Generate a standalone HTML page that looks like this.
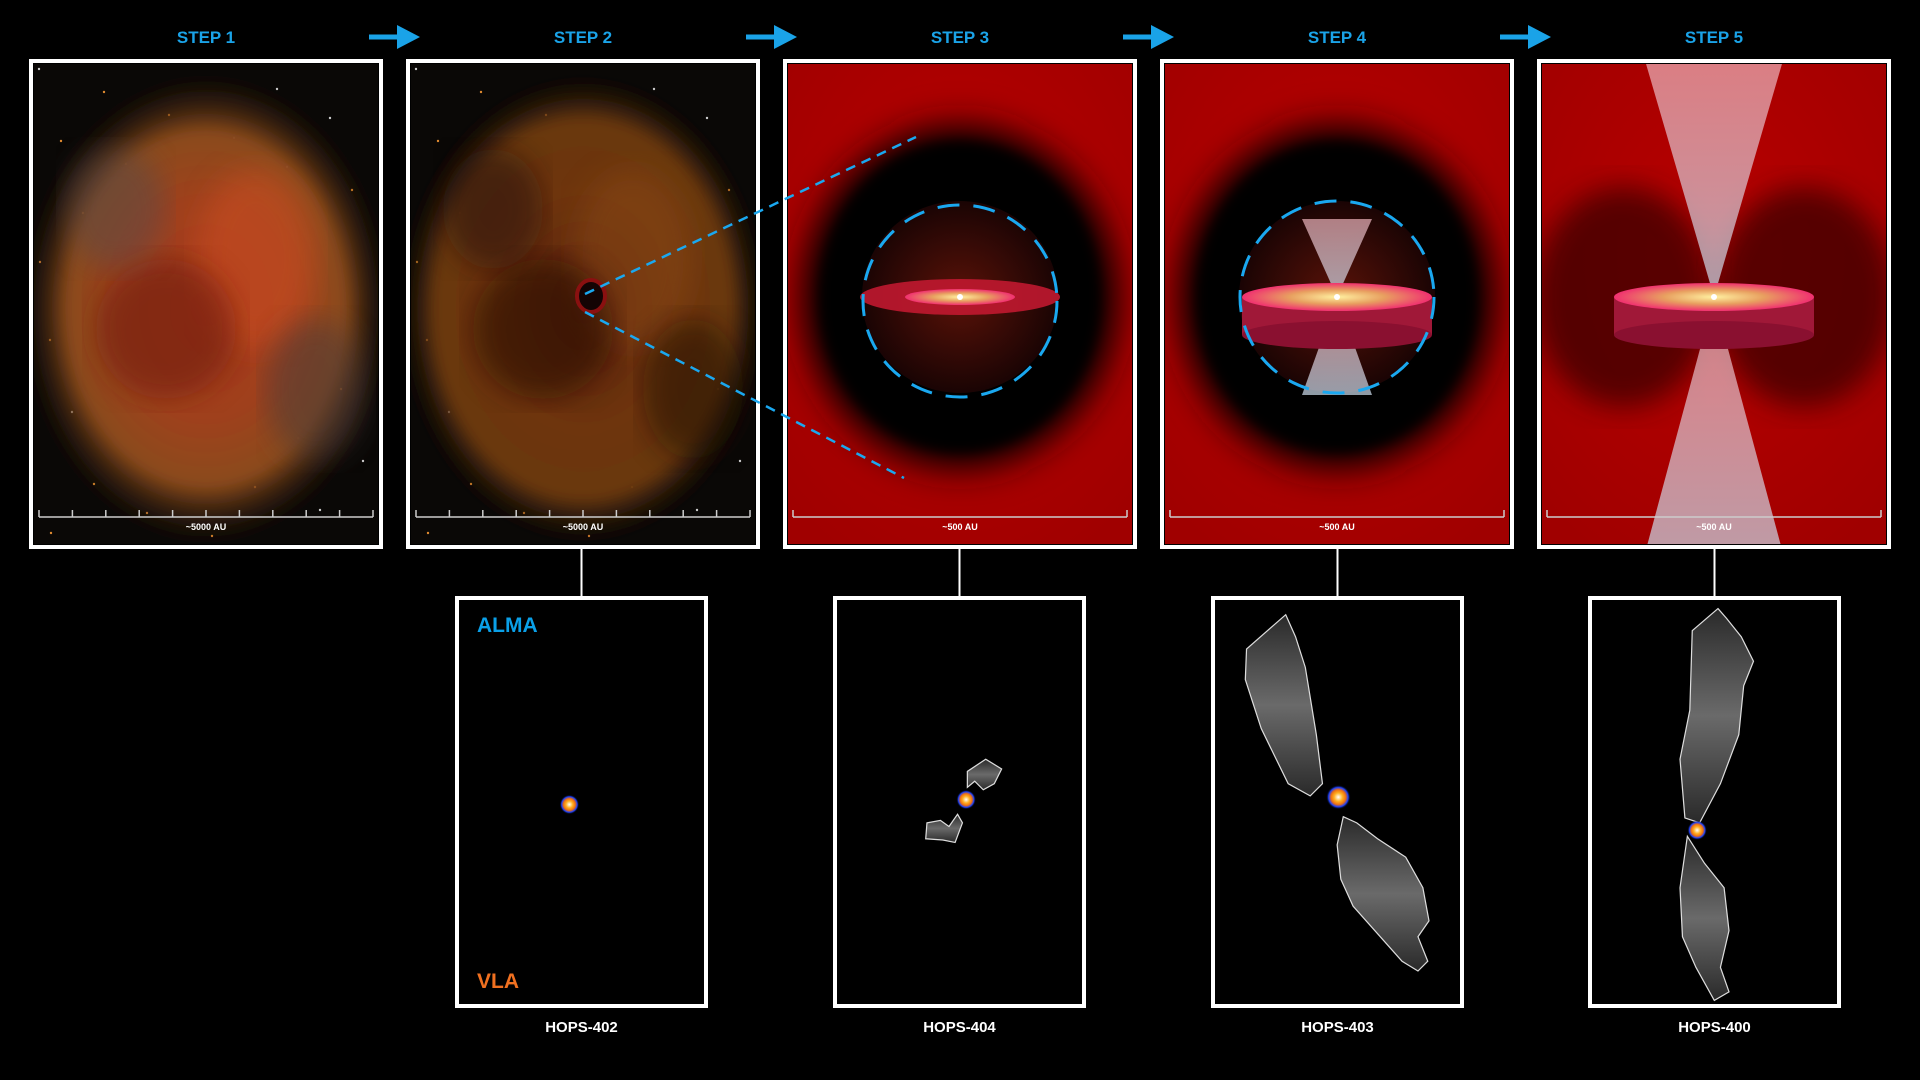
<!DOCTYPE html>
<html><head><meta charset="utf-8"><style>
html,body{margin:0;padding:0;background:#000;width:1920px;height:1080px;overflow:hidden}
svg{display:block}
text{font-family:"Liberation Sans",sans-serif;font-weight:bold}
</style></head><body>
<svg id="fig" width="1920" height="1080" viewBox="0 0 1920 1080">
<defs>
<radialGradient id="cloud1" cx="50%" cy="50%" r="50%"><stop offset="0" stop-color="#a8381a"/><stop offset="0.45" stop-color="#a0401a"/><stop offset="0.75" stop-color="#8a4a1a"/><stop offset="1" stop-color="#2a1a10" stop-opacity="0"/></radialGradient>
<radialGradient id="cloud2" cx="50%" cy="50%" r="50%"><stop offset="0" stop-color="#5a2208"/><stop offset="0.5" stop-color="#6e3410"/><stop offset="0.8" stop-color="#6a3810"/><stop offset="1" stop-color="#1a1008" stop-opacity="0"/></radialGradient>
<radialGradient id="redbg" cx="50%" cy="40%" r="70%"><stop offset="0" stop-color="#b80000"/><stop offset="1" stop-color="#a00000"/></radialGradient>
<radialGradient id="dark" cx="50%" cy="50%" r="50%"><stop offset="0" stop-color="#000"/><stop offset="0.82" stop-color="#080000"/><stop offset="1" stop-color="#300" stop-opacity="0"/></radialGradient>
<radialGradient id="inner" cx="50%" cy="50%" r="50%"><stop offset="0" stop-color="#5a1208"/><stop offset="1" stop-color="#1a0404"/></radialGradient>
<radialGradient id="core" cx="50%" cy="50%" r="50%"><stop offset="0" stop-color="#fff"/><stop offset="0.35" stop-color="#ffb020"/><stop offset="0.6" stop-color="#f07010"/><stop offset="0.8" stop-color="#1a40ff"/><stop offset="1" stop-color="#000" stop-opacity="0"/></radialGradient>
<linearGradient id="blob" x1="0" y1="0" x2="0" y2="1"><stop offset="0" stop-color="#2a2a2a"/><stop offset="0.5" stop-color="#6a6a6a"/><stop offset="1" stop-color="#2a2a2a"/></linearGradient>
<linearGradient id="jet" x1="0" y1="0" x2="0" y2="1"><stop offset="0" stop-color="#f2b8c0" stop-opacity="0.85"/><stop offset="1" stop-color="#c8d8e8" stop-opacity="0.9"/></linearGradient>
<radialGradient id="diskTop" cx="50%" cy="50%" r="50%"><stop offset="0" stop-color="#fff0a0"/><stop offset="0.5" stop-color="#e8a060"/><stop offset="1" stop-color="#f03070"/></radialGradient>
<filter id="blur6"><feGaussianBlur stdDeviation="6"/></filter>
<filter id="blur14"><feGaussianBlur stdDeviation="14"/></filter>
</defs>
<rect width="1920" height="1080" fill="#000"/>
<g id="topg"></g>
<g id="botg"></g>
</svg>
<script>
const stepLabels = ["STEP 1","STEP 2","STEP 3","STEP 4","STEP 5"];
const scaleLabels = ["~5000 AU","~5000 AU","~500 AU","~500 AU","~500 AU"];
const sourceNames = ["HOPS-402","HOPS-404","HOPS-403","HOPS-400"];
const NS="http://www.w3.org/2000/svg";
function mk(tag,attrs,parent){const e=document.createElementNS(NS,tag);for(const k in attrs)e.setAttribute(k,attrs[k]);if(parent)parent.appendChild(e);return e;}
const topG=document.getElementById('topg'), botG=document.getElementById('botg');
const TX=29, TP=377, TY=59, TW=354, TH=490;
stepLabels.forEach((lab,i)=>{
  const x=TX+i*TP, cx=x+TW/2;
  const g=mk('g',{},topG);
  
  
  const t=mk('text',{x:cx,y:43,'text-anchor':'middle','font-size':17,fill:'#1aa3e8'},g);t.textContent=lab;
  
  
  const cp=mk('clipPath',{id:'cp'+i},g);mk('rect',{x:x+5,y:TY+5,width:TW-10,height:TH-10},cp);
  const c=mk('g',{'clip-path':'url(#cp'+i+')'},g);
  if(i<2){
    mk('rect',{x:x,y:TY,width:TW,height:TH,fill:'#0a0806'},c);
    for(let s=0;s<40;s++){mk('circle',{cx:x+10+((s*97)%334),cy:TY+10+((s*173)%470),r:1.2,fill:s%3?'#e08a30':'#ccc'},c);}
    mk('ellipse',{cx:cx,cy:TY+250,rx:185,ry:235,fill:i==0?'url(#cloud1)':'url(#cloud2)',filter:'url(#blur6)'},c);
    mk('ellipse',{cx:cx+50,cy:TY+200,rx:60,ry:90,fill:i==0?'#d05020':'#8a4a14',opacity:0.5,filter:'url(#blur14)'},c);
    mk('ellipse',{cx:cx-40,cy:TY+270,rx:70,ry:70,fill:i==0?'#701a08':'#2a0e04',opacity:0.6,filter:'url(#blur14)'},c);
    mk('ellipse',{cx:cx-90,cy:TY+150,rx:50,ry:60,fill:i==0?'#5a4a48':'#201008',opacity:0.5,filter:'url(#blur14)'},c);
    mk('ellipse',{cx:cx+110,cy:TY+330,rx:50,ry:70,fill:i==0?'#4a3a3a':'#1a0a06',opacity:0.5,filter:'url(#blur14)'},c);
    if(i==1){mk('ellipse',{cx:cx+8,cy:TY+237,rx:14,ry:16,fill:'#140404',stroke:'#8a1010','stroke-width':4},c);}
  } else {
    mk('rect',{x:x,y:TY,width:TW,height:TH,fill:'url(#redbg)'},c);
    const cy=TY+238;
    if(i<4){
      mk('ellipse',{cx:cx,cy:cy,rx:175,ry:190,fill:'url(#dark)',filter:'url(#blur14)'},c);
      mk('ellipse',{cx:cx,cy:cy,rx:140,ry:155,fill:'#000',filter:'url(#blur6)'},c);
      mk('ellipse',{cx:cx,cy:cy,rx:98,ry:96,fill:'url(#inner)'},c);
    } else {
      mk('ellipse',{cx:cx-90,cy:cy,rx:90,ry:110,fill:'#300000',opacity:0.7,filter:'url(#blur14)'},c);
      mk('ellipse',{cx:cx+90,cy:cy,rx:90,ry:110,fill:'#300000',opacity:0.7,filter:'url(#blur14)'},c);
    }
    if(i>=3){
      const jh=i==4?240:78, jw=i==4?70:35;
      mk('polygon',{points:`${cx},${cy} ${cx-jw},${cy-jh} ${cx+jw},${cy-jh}`,fill:'url(#jet)',opacity:0.8},c);
      mk('polygon',{points:`${cx},${cy} ${cx-jw},${cy+jh+20} ${cx+jw},${cy+jh+20}`,fill:'url(#jet)',opacity:0.8},c);
    }
    const dw=i==2?100:(i==3?95:100);
    if(i==2){
      mk('ellipse',{cx:cx,cy:cy,rx:dw,ry:18,fill:'#c01830',opacity:0.9},c);
      mk('ellipse',{cx:cx,cy:cy,rx:55,ry:8,fill:'url(#diskTop)'},c);
    } else {
      mk('rect',{x:cx-dw,y:cy,width:dw*2,height:38,fill:'#a01838'},c);
      mk('ellipse',{cx:cx,cy:cy+38,rx:dw,ry:14,fill:'#8a1030'},c);
      mk('ellipse',{cx:cx,cy:cy,rx:dw,ry:14,fill:'url(#diskTop)'},c);
    }
    mk('circle',{cx:cx,cy:cy,r:3,fill:'#fff'},c);
    if(i<4){mk('ellipse',{cx:cx,cy:cy+(i==2?4:0),rx:97,ry:96,fill:'none',stroke:'#1aa8f0','stroke-width':3,'stroke-dasharray':'22 14'},g);}
  }
  const sy=TY+458;
  mk('line',{x1:x+10,y1:sy,x2:x+TW-10,y2:sy,stroke:'#ccc','stroke-width':1.5},g);
  const nt=i<2?11:2;
  for(let k=0;k<nt;k++){const tx=x+10+k*(TW-20)/(nt-1);mk('line',{x1:tx,y1:sy-7,x2:tx,y2:sy,stroke:'#ccc','stroke-width':1.5},g);}
  const st=mk('text',{x:cx,y:sy+13,'text-anchor':'middle','font-size':9,fill:'#fff'},g);st.textContent=scaleLabels[i];
  
  
  mk('rect',{x:x+2,y:TY+2,width:TW-4,height:TH-4,fill:'none',stroke:'#fff','stroke-width':4},g);
  if(i<4){
    const ar=mk('g',{},topG);
    
    
    mk('line',{x1:x+340,y1:37,x2:x+372,y2:37,stroke:'#1aa3e8','stroke-width':5},ar);
    mk('polygon',{points:`${x+368},25 ${x+391},37 ${x+368},49`,fill:'#1aa3e8'},ar);
  }
});
[[585,294,916,137],[585,312,904,478]].forEach((l,k)=>{const e=mk('line',{x1:l[0],y1:l[1],x2:l[2],y2:l[3],stroke:'#1aa8f0','stroke-width':2.5,'stroke-dasharray':'10 7'},topG);
 
 });
const BX=[455,833,1211,1588], BY=596, BW=253, BH=412, S=1.2245;
const blobs=[
 [],
 ["M790,630 L805,620 L818,628 L812,640 L803,645 L796,638 L790,643 Z","M757,672 L768,670 L775,675 L782,665 L786,672 L780,688 L770,686 L756,685 Z"],
 ["M1050,502 L1058,520 L1066,545 L1075,600 L1080,640 L1070,650 L1052,640 L1030,595 L1017,555 L1018,530 Z","M1097,667 L1108,672 L1125,685 L1148,700 L1162,725 L1167,752 L1158,765 L1166,785 L1158,793 L1145,785 L1105,740 L1095,718 L1092,690 Z"],
 ["M1403,497 L1410,505 L1422,520 L1432,540 L1424,560 L1420,600 L1405,640 L1388,672 L1376,668 L1372,620 L1380,580 L1382,515 Z","M1378,683 L1392,705 L1408,725 L1412,760 L1405,790 L1412,810 L1400,817 L1385,790 L1374,765 L1372,725 Z"]
];
const cores=[[465,657],[789,653],[1093,651],[1386,678]];
sourceNames.forEach((n,i)=>{
  const x=BX[i], cx=x+BW/2;
  const g=mk('g',{},botG);
  
  
  mk('line',{x1:cx,y1:TY+TH,x2:cx,y2:BY,stroke:'#fff','stroke-width':2},g);
  mk('rect',{x:x,y:BY,width:BW,height:BH,fill:'#000'},g);
  const bg=mk('g',{transform:`scale(${S})`},g);
  blobs[i].forEach(d=>mk('path',{d:d,fill:'url(#blob)',stroke:'#ddd','stroke-width':1},bg));
  mk('circle',{cx:cores[i][0],cy:cores[i][1],r:i==2?10:8,fill:'url(#core)'},bg);
  mk('rect',{x:x+2,y:BY+2,width:BW-4,height:BH-4,fill:'none',stroke:'#fff','stroke-width':4},g);
  const t=mk('text',{x:cx,y:1032,'text-anchor':'middle','font-size':15,fill:'#fff'},g);t.textContent=n;
  
  
});
const almaT=mk('text',{x:477,y:632,'font-size':21,fill:'#0aa0e8'},botG);almaT.textContent='ALMA';


const vlaT=mk('text',{x:477,y:988,'font-size':21,fill:'#f07020'},botG);vlaT.textContent='VLA';


</script>
</body></html>
